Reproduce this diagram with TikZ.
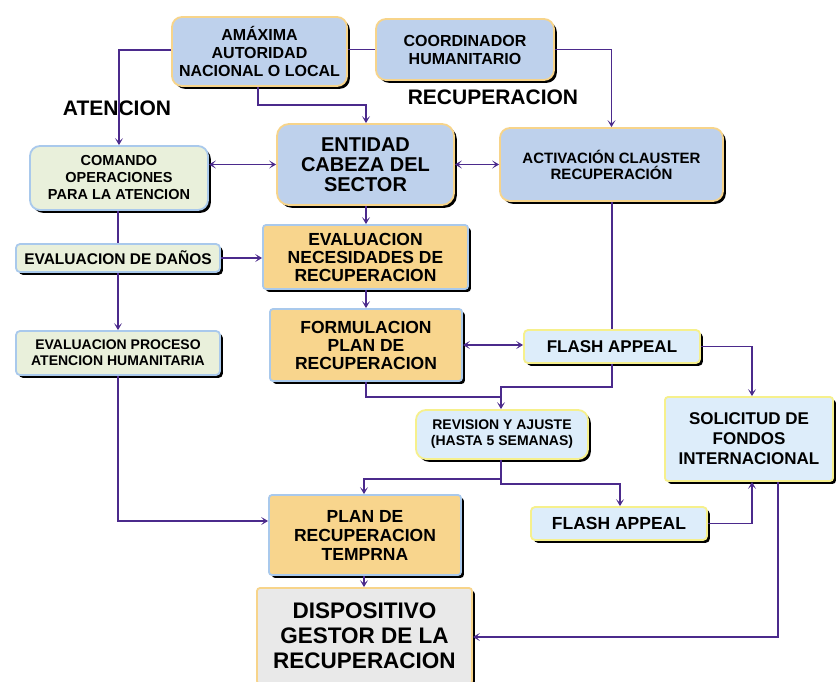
\documentclass[tikz,border=0pt]{standalone}
\usepackage{fontspec}
\setmainfont{Liberation Sans}
\usetikzlibrary{arrows.meta,shadows,calc}
\definecolor{lnc}{HTML}{4B2A8C}
\definecolor{bluefill}{HTML}{BED1EC}
\definecolor{orangeln}{HTML}{F7D48A}
\definecolor{greenfill}{HTML}{E9F0DB}
\definecolor{blueln}{HTML}{A9C9EC}
\definecolor{orangefill}{HTML}{F8D58D}
\definecolor{lbluefill}{HTML}{DDEDFA}
\definecolor{yellowln}{HTML}{F6F08C}
\definecolor{greyfill}{HTML}{E9E9E9}
\tikzset{
  x=1pt,y=-1pt,
  box/.style={draw, line width=1.8pt, inner sep=0pt, align=center, font=\bfseries,
    drop shadow={shadow xshift=2.8pt, shadow yshift=-2.8pt, fill=black, opacity=1}},
  bluebox/.style={box, fill=bluefill, draw=orangeln, rounded corners=10pt},
  greenbox/.style={box, fill=greenfill, draw=blueln},
  orangebox/.style={box, fill=orangefill, draw=blueln, rounded corners=3pt},
  lbluebox/.style={box, fill=lbluefill, draw=yellowln},
  greybox/.style={box, fill=greyfill, draw=orangeln, rounded corners=3pt},
  conn/.style={draw=lnc, line width=1.4pt},
  arr/.style={conn, -{Stealth[length=7pt,width=8pt,inset=3.5pt]}},
  darr/.style={conn, {Stealth[length=7pt,width=8pt,inset=3.5pt]}-{Stealth[length=7pt,width=8pt,inset=3.5pt]}},
  lbl/.style={font=\bfseries\fontsize{21}{22}\selectfont, inner sep=0pt}
}
\begin{document}
\begin{tikzpicture}
\clip (0,0) rectangle (836,681);
\fill[white] (0,0) rectangle (836,681);

% nodes
\node[bluebox, minimum width=175pt, minimum height=69pt, font=\bfseries\fontsize{16}{18}\selectfont] (amax) at (259.5,51.5) {AMÁXIMA\\AUTORIDAD\\NACIONAL O LOCAL};
\node[bluebox, minimum width=178pt, minimum height=61pt, font=\bfseries\fontsize{16}{18}\selectfont] (coord) at (465,49.5) {COORDINADOR\\HUMANITARIO};
\node[lbl] (lat) at (117,108) {ATENCION};
\node[lbl] (lrec) at (493,97) {RECUPERACION};
\node[greenbox, rounded corners=10pt, minimum width=178pt, minimum height=64pt, font=\bfseries\fontsize{14.5}{17}\selectfont] (comando) at (119,178) {COMANDO\\OPERACIONES\\PARA LA ATENCION};
\node[bluebox, rounded corners=12pt, minimum width=177pt, minimum height=81pt, font=\bfseries\fontsize{20}{20}\selectfont] (entidad) at (365.5,164.5) {ENTIDAD\\CABEZA DEL\\SECTOR};
\node[bluebox, minimum width=223pt, minimum height=73pt, font=\bfseries\fontsize{15}{16}\selectfont] (activ) at (611.5,164.5) {ACTIVACIÓN CLAUSTER\\RECUPERACIÓN};
\node[greenbox, rounded corners=4pt, minimum width=204pt, minimum height=28pt, font=\bfseries\fontsize{15.5}{17}\selectfont] (danos) at (118,258) {EVALUACION DE DAÑOS};
\node[orangebox, minimum width=205pt, minimum height=64pt, font=\bfseries\fontsize{17.5}{18}\selectfont] (evnec) at (365.5,257) {EVALUACION\\NECESIDADES DE\\RECUPERACION};
\node[orangebox, minimum width=192pt, minimum height=72pt, font=\bfseries\fontsize{17.5}{18}\selectfont] (formul) at (366,345) {FORMULACION\\PLAN DE\\RECUPERACION};
\node[greenbox, rounded corners=4pt, minimum width=204pt, minimum height=44pt, font=\bfseries\fontsize{14}{16}\selectfont] (proceso) at (118,353) {EVALUACION PROCESO\\ATENCION HUMANITARIA};
\node[lbluebox, rounded corners=4pt, minimum width=176pt, minimum height=33pt, font=\bfseries\fontsize{17}{18}\selectfont] (flash1) at (612,346.5) {FLASH APPEAL};
\node[lbluebox, rounded corners=10pt, minimum width=172pt, minimum height=49pt, font=\bfseries\fontsize{14}{16}\selectfont] (revision) at (502,434.5) {REVISION Y AJUSTE\\(HASTA 5 SEMANAS)};
\node[lbluebox, rounded corners=3pt, minimum width=168pt, minimum height=84pt, font=\bfseries\fontsize{17}{20}\selectfont] (solic) at (749,439) {SOLICITUD DE\\FONDOS\\INTERNACIONAL};
\node[orangebox, minimum width=192pt, minimum height=80pt, font=\bfseries\fontsize{17.5}{19}\selectfont] (plan) at (365,535) {PLAN DE\\RECUPERACION\\TEMPRNA};
\node[lbluebox, rounded corners=4pt, minimum width=176pt, minimum height=33pt, font=\bfseries\fontsize{17.5}{18}\selectfont] (flash2) at (619,523.5) {FLASH APPEAL};
\node[greybox, minimum width=215pt, minimum height=96pt, font=\bfseries\fontsize{22.5}{25}\selectfont] (dispos) at (364.5,636) {DISPOSITIVO\\GESTOR DE LA\\RECUPERACION};

% connectors
\draw[arr] (amax.west |- 0,50) -| (comando.north);
\draw[conn] (amax.east |- coord.west) -- (coord.west);
\draw[arr] (coord.east) -| (activ.north);
\draw[arr] (amax.south -| 258,0) |- (366,105) -- (entidad.north -| 366,0);
\draw[darr] (comando.east |- entidad.west) -- (entidad.west);
\draw[darr] (entidad.east) -- (activ.west);
\draw[conn] (activ.south -| 612,0) -- (flash1.north -| 612,0);
\draw[conn] (comando.south -| 118,0) -- (danos.north);
\draw[arr] (danos.south) -- (proceso.north);
\draw[arr] (danos.east) -- (evnec.west |- danos.east);
\draw[arr] (entidad.south -| 366,0) -- (evnec.north -| 366,0);
\draw[arr] (evnec.south -| 366,0) -- (formul.north);
\draw[darr] (formul.east) -- (flash1.west |- formul.east);
\coordinate (j1) at (501,387);
\draw[arr] (flash1.south) |- (j1) -- (revision.north -| j1);
\draw[conn] (formul.south) |- (501,397);
\draw[arr] (flash1.east) -| (solic.north -| 752,0);
\draw[arr] (proceso.south) |- (plan.west |- 0,521);
\coordinate (j2) at (501,479);
\draw[arr] (revision.south -| j2) -- (j2) -| (plan.north -| 364,0);
\draw[arr] (j2) -- (501,484) -| (flash2.north -| 620,0);
\draw[arr] (flash2.east) -| (solic.south -| 752,0);
\draw[arr] (solic.south -| 778,0) |- (dispos.east |- 0,637);
\draw[arr] (plan.south -| 364,0) -- (dispos.north -| 364,0);
\end{tikzpicture}
\end{document}
